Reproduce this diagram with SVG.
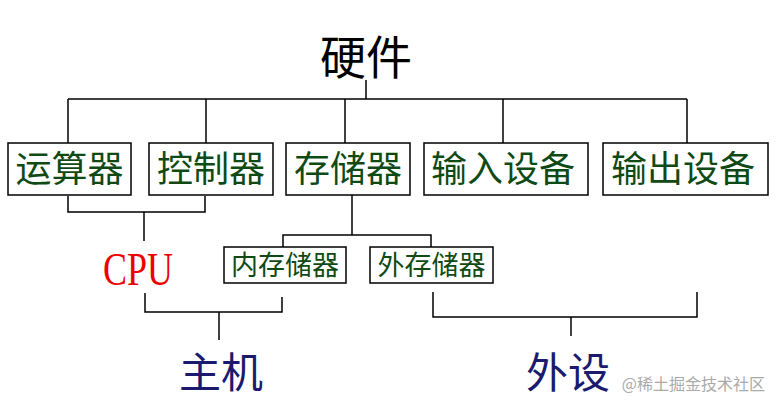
<svg xmlns="http://www.w3.org/2000/svg" width="779" height="407" viewBox="0 0 779 407">
<style>
.b{fill:#fff;stroke:#000;stroke-width:1.5}
.t{font-family:"Noto Sans CJK SC",sans-serif;fill:#0f4a14;text-anchor:middle}
.c line,.c polyline{stroke:#000;stroke-width:1.5;fill:none}
.h{font-family:"Noto Sans CJK SC",sans-serif;text-anchor:middle}
</style>
<rect width="779" height="407" fill="#fff"/>
<g class="c">
<line x1="366" y1="80" x2="366" y2="99"/>
<line x1="68" y1="99" x2="687" y2="99"/>
<line x1="68" y1="99" x2="68" y2="143"/>
<line x1="206" y1="99" x2="206" y2="143"/>
<line x1="345" y1="99" x2="345" y2="143"/>
<line x1="503" y1="99" x2="503" y2="143"/>
<line x1="687" y1="99" x2="687" y2="143"/>
<polyline points="68,196 68,212 205,212 205,196"/>
<line x1="144" y1="212" x2="144" y2="241"/>
<line x1="352" y1="195" x2="352" y2="235"/>
<polyline points="283,247 283,235 431,235 431,247"/>
<polyline points="145,293 145,312 282,312 282,297"/>
<line x1="219" y1="312" x2="219" y2="340"/>
<polyline points="433,292 433,317 697,317 697,292"/>
<line x1="571" y1="317" x2="571" y2="336"/>
</g>
<text class="h" x="366" y="74" font-size="46">硬件</text>
<g id="n1"><rect class="b" x="8" y="143" width="123" height="52"/><text class="t" x="69.5" y="182" font-size="36">运算器</text></g>
<g id="n2"><rect class="b" x="149" y="143" width="124" height="52"/><text class="t" x="211" y="182" font-size="36">控制器</text></g>
<g id="n3"><rect class="b" x="286" y="143" width="124" height="52"/><text class="t" x="348" y="182" font-size="36">存储器</text></g>
<g id="n4"><rect class="b" x="424" y="143" width="164" height="52"/><text class="t" x="503" y="182" font-size="36">输入设备</text></g>
<g id="n5"><rect class="b" x="603" y="143" width="165" height="52"/><text class="t" x="683" y="182" font-size="36">输出设备</text></g>
<g id="cpu"><text x="138" y="285" font-family="Liberation Serif,serif" font-size="46" fill="#e00" text-anchor="middle" textLength="70" lengthAdjust="spacingAndGlyphs">CPU</text></g>
<g id="n6"><rect class="b" x="224" y="247" width="122" height="36"/><text class="t" x="285" y="275" font-size="27">内存储器</text></g>
<g id="n7"><rect class="b" x="370" y="247" width="123" height="36"/><text class="t" x="431.5" y="275" font-size="27">外存储器</text></g>
<text class="h" x="221" y="388" font-size="42" fill="#1a1a6e">主机</text>
<text class="h" x="568" y="388" font-size="42" fill="#1a1a6e">外设</text>
<text x="765" y="390" font-family="Noto Sans CJK SC,sans-serif" font-size="16" fill="#aaa" text-anchor="end">@稀土掘金技术社区</text>
</svg>
